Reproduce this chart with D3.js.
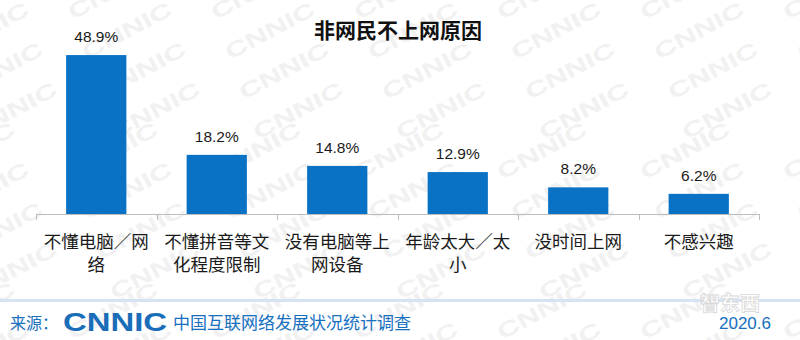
<!DOCTYPE html>
<html>
<head>
<meta charset="utf-8">
<script src="https://cdn.jsdelivr.net/npm/d3@7"></script>
<style>
  body { margin: 0; background: #fff; }
  svg { display: block; font-family: "Liberation Sans", Arial, "Noto Sans CJK SC", sans-serif; }
</style>
</head>
<body>
<div id="chart"></div>
<script>
'use strict'
/* Datos */
var categorias = ['不懂电脑／网络', '不懂拼音等文化程度限制', '没有电脑等上网设备', '年龄太大／太小', '没时间上网', '不感兴趣'];
var valores = [48.9, 18.2, 14.8, 12.9, 8.2, 6.2];
var etiquetas = ['48.9%', '18.2%', '14.8%', '12.9%', '8.2%', '6.2%'];

var w = 800;
var h = 340;
var azul = '#0a72c5';

var svg = d3.select('#chart').append('svg')
            .attr('width', w)
            .attr('height', h);

/* Marca de agua */
var marca = svg.append('g').attr('fill', '#f1f1f1');
for (var j = 0; j < 10; j++) {
  for (var i = 0; i < 7; i++) {
    var px = -70 + i * 143 + (j % 4) * 14;
    var py = 20 + j * 40;
    marca.append('text')
         .attr('transform', 'translate(' + px + ',' + py + ') rotate(-28)')
         .attr('font-size', 21)
         .attr('font-weight', 'bold')
         .attr('textLength', 98)
         .attr('lengthAdjust', 'spacingAndGlyphs')
         .text('CNNIC');
  }
}

/* Titulo */
svg.append('text')
   .attr('x', 398).attr('y', 38)
   .attr('text-anchor', 'middle')
   .attr('font-size', 21)
   .attr('font-weight', 'bold')
   .attr('fill', '#111')
   .text('非网民不上网原因');

/* Escalas */
var xScale = d3.scaleBand()
               .domain(categorias)
               .range([36, 759])
               .paddingInner(0.5)
               .paddingOuter(0.25);
var yScale = d3.scaleLinear()
               .domain([0, 50])
               .range([214, 51.5]);

/* Barras */
svg.selectAll('rect.barra')
   .data(valores)
   .enter()
   .append('rect')
   .attr('class', 'barra')
   .attr('x', (d, i) => xScale(categorias[i]))
   .attr('y', (d) => yScale(d))
   .attr('width', xScale.bandwidth())
   .attr('height', (d) => yScale(0) - yScale(d))
   .attr('fill', azul);

/* Etiquetas de valor */
svg.selectAll('text.valor')
   .data(valores)
   .enter()
   .append('text')
   .attr('class', 'valor')
   .attr('x', (d, i) => xScale(categorias[i]) + xScale.bandwidth() / 2)
   .attr('y', (d) => yScale(d) - 13)
   .attr('text-anchor', 'middle')
   .attr('font-size', 15.5)
   .attr('fill', '#1a1a1a')
   .text((d, i) => etiquetas[i]);

/* Eje */
var eje = svg.append('g').attr('stroke', '#bdbdbd').attr('stroke-width', 1);
eje.append('line')
   .attr('x1', 36).attr('x2', 759)
   .attr('y1', yScale(0) + 0.5).attr('y2', yScale(0) + 0.5);
var bordes = categorias.map((c) => xScale(c) - xScale.step() * 0.25);
bordes.push(759);
eje.selectAll('line.tick')
   .data(bordes)
   .enter()
   .append('line')
   .attr('class', 'tick')
   .attr('x1', (d) => Math.round(d) + 0.5).attr('x2', (d) => Math.round(d) + 0.5)
   .attr('y1', yScale(0)).attr('y2', yScale(0) + 6);

/* Categorias en dos lineas */
svg.selectAll('text.cat')
   .data(categorias)
   .enter()
   .append('text')
   .attr('class', 'cat')
   .attr('text-anchor', 'middle')
   .attr('font-size', 17.5)
   .attr('fill', '#1a1a1a')
   .each(function (d) {
     var t = d3.select(this);
     var cx = xScale(d) + xScale.bandwidth() / 2;
     var lineas = [d.slice(0, 6), d.slice(6)].filter((s) => s.length > 0);
     lineas.forEach((s, k) => {
       t.append('tspan').attr('x', cx).attr('y', 248 + k * 23).text(s);
     });
   });

/* Pie */
svg.append('rect')
   .attr('x', 0).attr('y', 299)
   .attr('width', w).attr('height', 3)
   .attr('fill', '#d5e3f2');
svg.append('text')
   .attr('x', 700).attr('y', 311)
   .attr('font-size', 20)
   .attr('font-weight', 'bold')
   .attr('fill', '#fff')
   .attr('stroke', '#d8d8d8')
   .attr('stroke-width', 0.8)
   .text('智东西');

var pie = svg.append('g').attr('fill', '#1670bf');
pie.append('text')
   .attr('x', 10).attr('y', 329)
   .attr('font-size', 16)
   .text('来源：');
pie.append('text')
   .attr('x', 63).attr('y', 331)
   .attr('font-size', 25)
   .attr('font-weight', 'bold')
   .attr('textLength', 104)
   .attr('lengthAdjust', 'spacingAndGlyphs')
   .attr('fill', '#1a6db8')
   .text('CNNIC');
pie.append('text')
   .attr('x', 173).attr('y', 329)
   .attr('font-size', 17)
   .text('中国互联网络发展状况统计调查');
pie.append('text')
   .attr('x', 771).attr('y', 329)
   .attr('text-anchor', 'end')
   .attr('font-size', 17)
   .text('2020.6');
</script>
</body>
</html>
